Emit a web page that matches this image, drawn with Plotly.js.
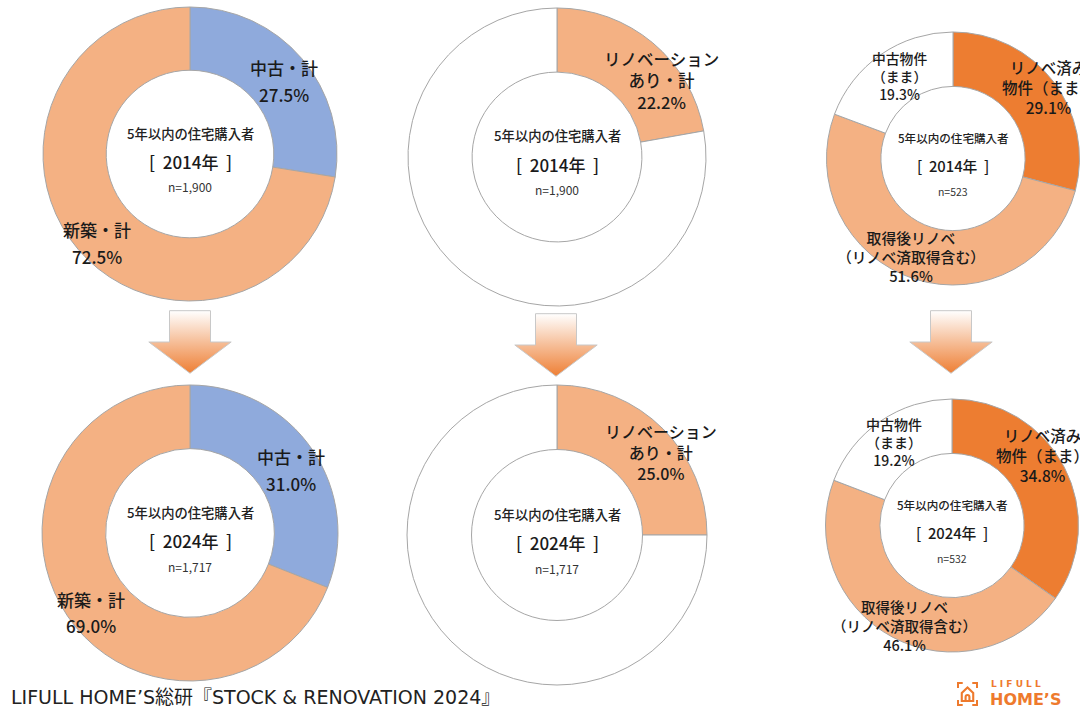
<!DOCTYPE html>
<html><head><meta charset="utf-8">
<script src="https://cdn.plot.ly/plotly-3.0.1.min.js"></script>
<style>html,body{margin:0;padding:0;background:#fff;}#chart{width:1080px;height:711px;}</style>
</head><body><div id="chart"></div>
<script>
// ---- data ----
const years = ['2014年', '2024年'];
const sampleSizes1 = ['1,900', '1,717'];
const sampleSizes2 = ['1,900', '1,717'];
const sampleSizes3 = ['523', '532'];

const cats1 = ['中古・計', '新築・計'];
const vals1_2014 = [27.5, 72.5];
const vals1_2024 = [31.0, 69.0];

const cats2 = ['リノベーションあり・計', 'その他'];
const vals2_2014 = [22.2, 77.8];
const vals2_2024 = [25.0, 75.0];

const cats3 = ['リノベ済み物件（まま）', '取得後リノベ（リノベ済取得含む）', '中古物件（まま）'];
const vals3_2014 = [29.1, 51.6, 19.3];
const vals3_2024 = [34.8, 46.1, 19.2];

// label display lines per category
const lines1 = [['中古・計'], ['新築・計']];
const lines2 = [['リノベーション', 'あり・計']];
const lines3 = [['リノベ済み', '物件（まま）'], ['取得後リノベ', '（リノベ済取得含む）'], ['中古物件', '（まま）']];

const centerTitle = '5年以内の住宅購入者';
const footer = 'LIFULL HOME\u2019S総研『STOCK & RENOVATION 2024』';

// ---- layout helpers ----
const W = 1080, H = 711;
const FONT = '"Noto Sans CJK JP", "Noto Sans", sans-serif';
const px = x => x / W, py = y => 1 - y / H;
function dom(cx, cy, r) { return { x: [px(cx - r), Math.min(1, px(cx + r))], y: [py(cy + r), py(cy - r)] }; }

const C_BLUE = '#8FAADC', C_PEACH = '#F4B183', C_ORANGE = '#ED7D31', C_WHITE = '#FFFFFF';
const LINE = { color: '#a6a6a6', width: 1 };

function pie(labels, values, colors, d, hole) {
  return { type: 'pie', labels: labels, values: values, sort: false, direction: 'clockwise', rotation: 0,
    hole: hole, domain: d, textinfo: 'none', hoverinfo: 'label+value', showlegend: false,
    marker: { colors: colors, line: LINE } };
}

const charts = [
  { c: [190, 154, 147], labels: cats1, vals: vals1_2014, colors: [C_BLUE, C_PEACH], yr: 0, n: sampleSizes1[0], big: true },
  { c: [557, 157, 149], labels: cats2, vals: vals2_2014, colors: [C_PEACH, C_WHITE], yr: 0, n: sampleSizes2[0], big: true },
  { c: [953, 158.5, 126.5], labels: cats3, vals: vals3_2014, colors: [C_ORANGE, C_PEACH, C_WHITE], yr: 0, n: sampleSizes3[0], big: false },
  { c: [190, 533, 148], labels: cats1, vals: vals1_2024, colors: [C_BLUE, C_PEACH], yr: 1, n: sampleSizes1[1], big: true },
  { c: [557, 535, 150], labels: cats2, vals: vals2_2024, colors: [C_PEACH, C_WHITE], yr: 1, n: sampleSizes2[1], big: true },
  { c: [952, 525.5, 126.5], labels: cats3, vals: vals3_2024, colors: [C_ORANGE, C_PEACH, C_WHITE], yr: 1, n: sampleSizes3[1], big: false }
];

const data = charts.map(ch => pie(ch.labels, ch.vals, ch.colors, dom(ch.c[0], ch.c[1], ch.c[2]), 0.57));

const annotations = [];
function txt(x, y, text, size, color, weight) {
  annotations.push({ xref: 'paper', yref: 'paper', x: px(x), y: py(y), text: text, showarrow: false,
    xanchor: 'center', yanchor: 'middle', font: { family: FONT, size: size, color: color || '#1a1a1a', weight: weight || 'normal' } });
}

// center texts
const NB = '\u00a0';
charts.forEach(ch => {
  const [cx, cy] = ch.c;
  const s = ch.big ? 1 : 0.87;
  txt(cx, cy - 21, centerTitle, 13.3 * s, '#222', 500);
  txt(cx, cy + 7, '[' + NB + NB + years[ch.yr] + NB + NB + ']', 17 * s, '#1a1a1a', 500);
  txt(cx, cy + 33, 'n=' + ch.n, 12 * s, '#333');
});

// slice labels: separate lines (wide gap) for chart 1/4
function block(x, y, lines, value, size, gap) {
  const all = lines.concat([value.toFixed(1) + '%']);
  all.forEach((l, i) => txt(x, y + i * gap, l, size, '#1a1a1a', 500));
}
// multi-line single annotation (cy = centre of block)
function mblock(x, cy, lines, value, size) {
  const all = lines.concat([value.toFixed(1) + '%']);
  txt(x, cy, all.join('<br>'), size, '#1a1a1a', 500);
}
// chart 1 & 4
block(284, 68, lines1[0], vals1_2014[0], 17, 27);
block(97, 230, lines1[1], vals1_2014[1], 17, 26);
block(291, 456, lines1[0], vals1_2024[0], 17, 27);
block(91, 599, lines1[1], vals1_2024[1], 17, 26);
// chart 2 & 5
mblock(661, 80, lines2[0], vals2_2014[0], 16.5);
mblock(661, 452, lines2[0], vals2_2024[0], 16);
// chart 3 & 6
mblock(1048, 87, lines3[0], vals3_2014[0], 15.5);
mblock(911, 256, lines3[1], vals3_2014[1], 14.8);
mblock(899, 76, lines3[2], vals3_2014[2], 13.8);
mblock(1042, 454.5, lines3[0], vals3_2024[0], 15.5);
mblock(905, 625, lines3[1], vals3_2024[1], 14.5);
mblock(894, 442.5, lines3[2], vals3_2024[2], 14);

// footer
annotations.push({ xref: 'paper', yref: 'paper', x: px(9), y: py(697), xanchor: 'left', yanchor: 'middle', showarrow: false,
  text: footer, font: { family: '"DejaVu Sans", "Noto Sans CJK JP", sans-serif', size: 19, color: '#222' } });
// logo text
annotations.push({ xref: 'paper', yref: 'paper', x: px(989), y: py(684), xanchor: 'left', yanchor: 'middle', showarrow: false,
  text: 'L I F U L L', font: { family: '"DejaVu Sans", sans-serif', size: 9, color: '#EE7A2D', weight: 'bold' } });
annotations.push({ xref: 'paper', yref: 'paper', x: px(988), y: py(699), xanchor: 'left', yanchor: 'middle', showarrow: false,
  text: 'HOME\u2019S', font: { family: '"DejaVu Sans", sans-serif', size: 16, color: '#EE7A2D', weight: 'bold' } });

// arrow image (decorative)
const arrowSvg = '<svg xmlns="http://www.w3.org/2000/svg" width="84" height="64" viewBox="0 0 84 64">' +
  '<defs><linearGradient id="g" x1="0" y1="0" x2="0" y2="1">' +
  '<stop offset="0" stop-color="#ffffff"/><stop offset="0.5" stop-color="#F6BE98"/><stop offset="1" stop-color="#EE7F35"/>' +
  '</linearGradient></defs>' +
  '<path d="M21.5,0.7 H62.5 V32 H83.2 L42,63.3 L0.8,32 H21.5 Z" fill="url(#g)" stroke="#c8c8c8" stroke-width="1"/></svg>';
const arrowSrc = 'data:image/svg+xml;charset=utf-8,' + encodeURIComponent(arrowSvg);
const logoSvg = '<svg xmlns="http://www.w3.org/2000/svg" width="22" height="24" viewBox="0 0 22 24">' +
  '<g fill="none" stroke="#EE7A2D" stroke-width="2.2">' +
  '<path d="M1,6 V1 H6"/><path d="M16,1 H21 V6"/><path d="M1,18 V23 H6"/><path d="M16,23 H21 V18"/>' +
  '<path d="M5,19 V11 L11,5.5 L17,11 V19 Z"/><path d="M9,19 V15 A2,2 0 0 1 13,15 V19"/></g></svg>';
const logoSrc = 'data:image/svg+xml;charset=utf-8,' + encodeURIComponent(logoSvg);

function img(src, x, y, w, h) {
  return { source: src, xref: 'paper', yref: 'paper', x: px(x), y: py(y), sizex: w / W, sizey: h / H,
    xanchor: 'left', yanchor: 'top', sizing: 'stretch', layer: 'above' };
}
const images = [
  img(arrowSrc, 148, 310, 84, 64),
  img(arrowSrc, 514, 313, 84, 64),
  img(arrowSrc, 909, 310, 84, 64),
  img(logoSrc, 957, 682, 21, 24)
];

const layout = {
  width: W, height: H, margin: { l: 0, r: 0, t: 0, b: 0 }, paper_bgcolor: '#fff', plot_bgcolor: '#fff',
  showlegend: false, annotations: annotations, images: images, font: { family: FONT }
};
Plotly.newPlot('chart', data, layout, { displayModeBar: false, staticPlot: true });
</script></body></html>
